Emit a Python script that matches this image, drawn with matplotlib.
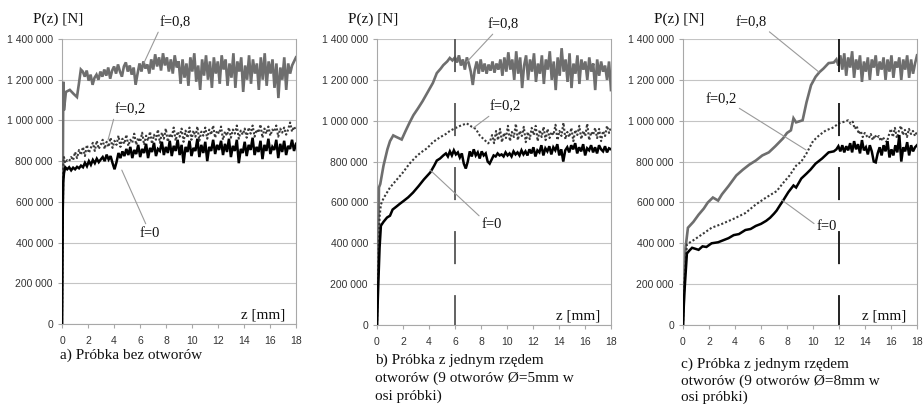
import numpy as np
import matplotlib
matplotlib.use("Agg")
import matplotlib.pyplot as plt
from matplotlib.ticker import FuncFormatter, MultipleLocator

# ---------------- DATA (P in thousands of N, z in mm) ----------------
# Panel a) no holes
a8_head_z = [0, 0.05, 0.1, 0.15, 0.3, 0.6, 0.9, 1.15, 1.3, 1.45]
a8_head_p = [0, 600, 1190, 1050, 1140, 1150, 1130, 1115, 1180, 1250]
a8_noise_start = 1.6
a8_noise = [1240, 1215, 1245, 1195, 1225, 1175, 1210, 1225, 1200, 1240, 1215, 1250, 1220, 1260, 1205, 1245,
            1265, 1230, 1275, 1240, 1215, 1265, 1285, 1240, 1270, 1225,
            1260, 1175, 1230, 1280, 1240, 1290, 1255, 1275, 1230, 1300, 1250, 1325, 1265, 1310, 1245, 1330,
            1270, 1310, 1240, 1300,
            1230, 1320, 1260, 1290, 1180, 1300, 1210, 1280, 1170, 1310, 1240, 1330, 1190, 1270, 1150, 1300,
            1220, 1320, 1200, 1290, 1160, 1310, 1230, 1290, 1180, 1320, 1250, 1300, 1170, 1280, 1210, 1330,
            1160, 1290, 1240, 1310, 1140, 1270, 1200, 1320, 1180, 1300, 1230, 1280, 1150, 1310, 1200, 1330,
            1170, 1290, 1230, 1300, 1160, 1280, 1110, 1260, 1200, 1310, 1150, 1280, 1230, 1270, 1290, 1310]

a2_head_z = [0, 0.05, 0.1, 0.15, 0.25, 0.4]
a2_head_p = [0, 400, 780, 820, 790, 805]
a2_noise_start = 0.55
a2_noise = [800, 820, 805, 845, 815, 855, 830, 870, 825, 880, 840, 865, 890, 850, 900, 860,
            880, 905, 860, 895, 870, 915, 865, 900, 880, 925, 870, 910, 885, 930, 875, 905, 890, 935, 880, 915,
            895, 940, 880, 925, 900, 945, 885, 930, 905, 955, 890, 940, 910, 960, 895, 935, 915, 965, 900, 945,
            920, 960, 895, 950, 915, 965, 905,
            950, 920, 970, 900, 945, 925, 965, 910, 955, 930, 975, 915, 950, 935, 970, 905, 945, 925, 965, 915,
            955, 935, 975, 910, 950, 930, 960,
            915, 965, 935, 975, 920, 955, 940, 980, 915, 960, 935, 970, 925, 955, 945, 975, 920, 960, 940, 965,
            930, 955, 990, 945, 970, 950]

a0_head_z = [0, 0.03, 0.06, 0.1, 0.15, 0.25]
a0_head_p = [0, 300, 560, 700, 740, 770]
a0_noise_start = 0.4
a0_noise = [760, 770, 755, 768, 760, 772, 765, 778, 770, 792, 775, 800, 782, 806, 790, 812, 795, 808,
            820, 800, 832, 808, 825, 790, 760, 795, 840, 815, 848, 825, 860,
            830, 870, 815, 855, 835, 880, 820, 860, 840, 885, 815, 865, 845, 890, 825, 860, 850, 895, 830, 870,
            840, 900, 825, 875, 850, 905, 830, 880, 790, 870, 845, 900, 825, 865, 850, 910, 820, 880, 840, 895,
            800, 870, 850, 905, 835, 880, 855,
            900, 830, 885, 845, 910, 820, 875, 850, 905, 790, 860, 840, 895, 825, 880, 855, 915, 830, 870, 845,
            900, 810, 880, 850, 910, 835, 870, 855, 905, 815, 885, 845, 900, 830, 875, 860, 905, 850, 885]

# Panel b) one row of 5 mm holes
b8_head_z = [0, 0.1, 0.15, 0.25, 0.5, 0.8, 1.0, 1.25, 1.5, 1.9, 2.2, 2.5, 2.8, 3.15, 3.5, 3.9, 4.3, 4.6,
             4.9, 5.1, 5.4, 5.6, 5.8]
b8_head_p = [0, 400, 673, 690, 780, 860, 900, 928, 920, 908, 950, 990, 1027, 1060, 1095, 1140, 1185, 1233,
             1255, 1272, 1290, 1307, 1295]
b8_noise_start = 6.0
b8_noise = [1310, 1285, 1320, 1270, 1300, 1250, 1310, 1280, 1240, 1175, 1250, 1290, 1230, 1300,
            1240, 1280, 1230, 1275, 1245, 1290, 1235, 1280, 1250, 1300, 1220, 1310, 1240, 1335, 1250,
            1300, 1200, 1340, 1230, 1310, 1160, 1270, 1320, 1200, 1300, 1240, 1330, 1190, 1280, 1230, 1320,
            1180, 1300, 1250, 1340, 1200, 1290, 1150, 1310, 1220, 1355, 1240, 1300, 1190, 1330, 1160, 1280,
            1230, 1320, 1180, 1300, 1250, 1290, 1200, 1310, 1240, 1280, 1150, 1300, 1220, 1290, 1240, 1270,
            1200, 1290, 1150]

b2_head_z = [0, 0.1, 0.2, 0.3, 0.5, 1.0, 1.5, 2.0, 2.5, 3.1, 3.5, 3.85, 4.3, 4.85, 5.3, 5.6, 6.0, 6.4,
             6.9, 7.3, 7.6, 7.9, 8.2, 8.55]
b2_head_p = [0, 300, 530, 590, 620, 673, 710, 747, 790, 830, 850, 865, 895, 919, 935, 950, 963, 975,
             987, 970, 960, 928, 910, 889]
b2_noise_start = 8.7
b2_noise = [900, 930, 890, 950, 905, 960, 895, 940, 915, 975, 900, 945, 920, 985, 905, 950, 925, 970, 895, 945,
            910, 965, 930, 975, 900, 955, 920, 970, 905, 960, 915, 945, 930, 980, 905, 950, 925, 990, 910, 945,
            920, 965, 900, 955, 930, 975, 910, 950, 925, 985, 905, 945, 930, 965, 915, 960, 900, 950, 925, 975,
            940, 970]

b0_head_z = [0, 0.1, 0.2, 0.3, 0.5, 0.77, 1.0, 1.2, 1.5, 1.77, 2.0, 2.4, 2.77, 3.2, 3.6, 4.1, 4.4, 4.6,
             4.85, 5.1]
b0_head_p = [0, 200, 380, 486, 505, 526, 535, 565, 580, 594, 605, 625, 648, 680, 712, 747, 780, 805, 815, 830]
b0_noise_start = 5.3
b0_noise = [840, 825, 850, 830, 855, 835, 845, 820, 840, 790, 766,
            800, 850, 825, 860, 830, 845, 815, 850, 830, 840, 800,
            790, 810, 830, 825, 840, 830, 835, 825, 845, 830, 840, 825, 850, 835, 845, 830, 855, 835, 850,
            830, 860, 840, 870, 825, 855, 845, 880, 830, 865, 850, 875, 835, 870, 855, 885, 830, 860, 800, 855,
            870, 845, 880, 860, 890, 840, 870, 850, 885, 830, 865, 855, 880, 845, 870, 840, 880, 860, 850, 875,
            845, 865, 860]

# Panel c) one row of 8 mm holes
c8_head_z = [0, 0.1, 0.2, 0.38, 0.8, 1.2, 1.6, 1.9, 2.3, 2.7, 3.0, 3.5, 4.1, 4.6, 5.1, 5.6, 6.1, 6.6, 7.1,
             7.7, 8.0, 8.3, 8.5, 8.7, 9.0, 9.2, 9.5, 9.85, 10.2, 10.5, 10.8, 11.2, 11.6]
c8_head_p = [0, 200, 380, 476, 505, 540, 570, 599, 624, 609, 640, 680, 732, 760, 785, 805, 830, 845, 875,
             914, 940, 953, 1012, 992, 998, 1002, 1090, 1174, 1215, 1238, 1255, 1282, 1285]
c8_noise_start = 11.8
c8_noise = [1300, 1270, 1320, 1250, 1330, 1220, 1310, 1260, 1340, 1210, 1300, 1250, 1320, 1190, 1290, 1240,
            1310, 1200, 1300, 1260, 1320, 1220, 1290, 1250, 1310, 1200, 1300, 1240, 1320, 1210, 1290, 1260,
            1310, 1200, 1300, 1250, 1320, 1210, 1300, 1230, 1280, 1320]

c2_head_z = [0, 0.1, 0.3, 0.8, 1.5, 2.2, 3.0, 3.9, 4.8, 5.6, 6.3, 6.8, 7.2, 7.7, 8.2, 8.7, 9.1, 9.5, 10.0,
             10.5, 11.0, 11.5, 12.0, 12.4, 12.7]
c2_head_p = [0, 200, 395, 415, 445, 476, 495, 520, 548, 590, 620, 640, 655, 695, 732, 780, 800, 840, 900,
             930, 953, 965, 987, 995, 1002]
c2_noise_start = 12.9
c2_noise = [985, 995, 960, 975, 935, 950, 920, 940, 925, 915, 935, 905, 930, 915, 925, 900, 920, 905, 895, 930,
            960, 920, 965, 915, 950, 975, 930, 955, 920, 960, 935, 950, 925, 945]

c0_head_z = [0, 0.1, 0.3, 0.5, 0.7, 1.0, 1.2, 1.5, 1.8, 2.2, 2.7, 3.1, 3.5, 3.9, 4.3, 4.8, 5.2, 5.6, 6.0,
             6.4, 6.7, 7.0, 7.2, 7.5, 7.7, 8.1, 8.5, 8.7, 9.1, 9.5, 9.8, 10.2, 10.7, 11.2, 11.6]
c0_head_p = [0, 150, 350, 365, 378, 372, 368, 385, 382, 400, 405, 415, 425, 440, 445, 465, 470, 485, 495,
             510, 525, 545, 560, 590, 609, 650, 683, 673, 717, 741, 760, 790, 815, 845, 850]
c0_noise_start = 11.8
c0_noise = [860, 875, 850, 880, 845, 875, 855, 890, 845, 900, 860, 885, 840, 905, 855, 870, 835, 880, 850, 800,
            796, 840, 870, 830, 880, 850, 900, 820, 860, 830, 880, 845, 930, 800, 870, 850, 895, 830, 880, 850,
            870, 880]

z_max = 18
marker_z = [None, 6, 12]
captions = [["a) Próbka bez otworów"],
            ["b) Próbka z jednym rzędem", "otworów (9 otworów Ø=5mm w", "osi próbki)"],
            ["c) Próbka z jednym rzędem", "otworów (9 otworów Ø=8mm w", "osi próbki)"]]
label_names = ["f=0,8", "f=0,2", "f=0"]


def series(hz, hp, start, noise):
    z = np.concatenate([np.array(hz, float), np.linspace(start, z_max, len(noise))])
    p = np.concatenate([np.array(hp, float), np.array(noise, float)]) * 1000
    return z, p


panels = [
    [series(a8_head_z, a8_head_p, a8_noise_start, a8_noise),
     series(a2_head_z, a2_head_p, a2_noise_start, a2_noise),
     series(a0_head_z, a0_head_p, a0_noise_start, a0_noise)],
    [series(b8_head_z, b8_head_p, b8_noise_start, b8_noise),
     series(b2_head_z, b2_head_p, b2_noise_start, b2_noise),
     series(b0_head_z, b0_head_p, b0_noise_start, b0_noise)],
    [series(c8_head_z, c8_head_p, c8_noise_start, c8_noise),
     series(c2_head_z, c2_head_p, c2_noise_start, c2_noise),
     series(c0_head_z, c0_head_p, c0_noise_start, c0_noise)],
]

# annotation positions: (text z, text P[k], point z, point P[k], relpos)
annots = [
    [(8.7, 1479, 6.3, 1282, (0.0, 0.0)), (5.23, 1051, 3.54, 904, (0.0, 0.0)), (6.77, 447, 4.6, 756, (0.35, 1.0))],
    [(9.7, 1469, 6.9, 1287, (0.25, 0.0)), (9.85, 1067, 7.4, 964, (0.1, 0.0)), (8.85, 490, 4.08, 759, (0.0, 1.0))],
    [(5.23, 1478, 10.46, 1238, (1.0, 0.0)), (2.92, 1101, 9.46, 857, (1.0, 0.0)), (11.08, 480, 7.6, 612, (0.0, 0.6))],
]

# ---------------- STYLE / LAYOUT ----------------
serif = ["Liberation Serif", "DejaVu Serif"]
sans = ["Liberation Sans", "DejaVu Sans"]
plt.rcParams["font.family"] = sans

W, H = 924, 404
fig = plt.figure(figsize=(W / 100, H / 100), dpi=100)

axes_px = [(62, 39, 296, 324), (377, 39, 611, 325), (683, 39, 917, 325)]
line_styles = [dict(color="#6e6e6e", lw=1.9, ls="-"),
               dict(color="#3a3a3a", lw=1.5, ls=(0, (1, 1))),
               dict(color="#000000", lw=1.8, ls="-")]
marker_colors = [None, "#555555", "#111111"]
caption_y_px = [[355], [360, 378, 396], [364, 381, 397]]

fmt = FuncFormatter(lambda v, p: f"{int(round(v)):,}".replace(",", " "))

for i, (l, t, r, b) in enumerate(axes_px):
    ax = fig.add_axes([l / W, (H - b) / H, (r - l) / W, (b - t) / H])
    ax.set_xlim(0, z_max)
    ax.set_ylim(0, 1400000)
    ax.xaxis.set_major_locator(MultipleLocator(2))
    ax.yaxis.set_major_locator(MultipleLocator(200000))
    ax.yaxis.set_major_formatter(fmt)
    ax.grid(axis="y", color="#c4c4c4", lw=0.8)
    ax.set_axisbelow(True)
    for s in ["left", "right", "bottom"]:
        ax.spines[s].set_color("#a8a8a8")
        ax.spines[s].set_linewidth(0.8)
    ax.spines["top"].set_visible(False)
    ax.tick_params(axis="both", length=3, width=0.8, color="#a8a8a8", labelsize=7.5, labelcolor="#333333")
    ax.tick_params(axis="x", pad=5.5)
    ax.tick_params(axis="y", pad=3.5)

    # marker line
    if marker_z[i] is not None:
        lw = 1.3
        ax.plot([marker_z[i], marker_z[i]], [1400000, 0], color=marker_colors[i], lw=lw,
                ls=(0, (23.8 / lw, 22.3 / lw)), zorder=4, clip_on=False)

    # curves
    for (z, p), st in zip(panels[i], line_styles):
        ax.plot(z, p, color=st["color"], lw=st["lw"], ls=st["ls"], zorder=3,
                solid_joinstyle="miter" if st["ls"] == "-" else "round")

    # labels with leader lines
    for name, (tz, tp, pz, pp, rp) in zip(label_names, annots[i]):
        ax.annotate(name, xy=(pz, pp * 1000), xytext=(tz, tp * 1000), textcoords="data",
                    ha="center", va="center", fontsize=10.5, family=serif, color="#111111",
                    annotation_clip=False, zorder=5,
                    arrowprops=dict(arrowstyle="-", color="#9a9a9a", lw=0.8, relpos=rp,
                                    shrinkA=0, shrinkB=0))

    ax.text(-0.017, 1.07, "P(z) [N]", transform=ax.transAxes, ha="center", va="center",
            fontsize=11, family=serif, color="#111111")
    ax.text(0.953, 0.032, "z [mm]", transform=ax.transAxes, ha="right", va="center",
            fontsize=11, family=serif, color="#111111")
    for txt, ypx in zip(captions[i], caption_y_px[i]):
        ax.text((l - 2) / W, (H - ypx) / H, txt, transform=fig.transFigure, ha="left", va="center",
                fontsize=11, family=serif, color="#111111")

fig.savefig("out.png", dpi=100)
